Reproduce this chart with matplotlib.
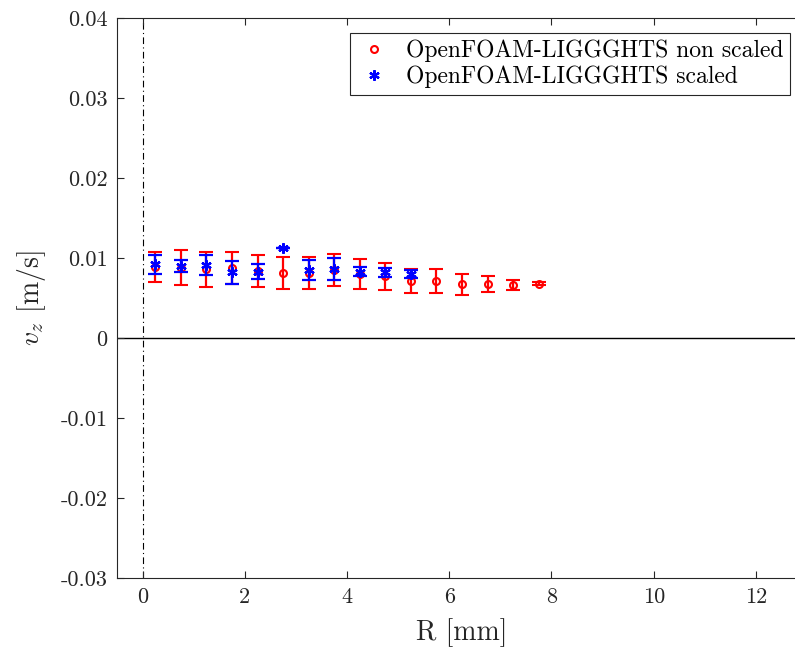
import matplotlib
matplotlib.use("Agg")
import matplotlib.pyplot as plt

# ---- data ----
r_red = [0.25, 0.75, 1.25, 1.75, 2.25, 2.75, 3.25, 3.75, 4.25, 4.75, 5.25, 5.75, 6.25, 6.75, 7.25, 7.75]
v_red = [0.0089, 0.0088, 0.0086, 0.0087, 0.0084, 0.0081, 0.0081, 0.0085, 0.0080, 0.0077, 0.0071, 0.0071, 0.0067, 0.0067, 0.0066, 0.0068]
e_red = [0.0019, 0.0022, 0.0022, 0.0020, 0.0020, 0.0020, 0.0020, 0.0020, 0.00185, 0.0017, 0.0015, 0.0015, 0.00135, 0.0010, 0.0006, 0.0002]

r_blue = [0.25, 0.75, 1.25, 1.75, 2.25, 2.75, 3.25, 3.75, 4.25, 4.75, 5.25]
v_blue = [0.0092, 0.0090, 0.0091, 0.0082, 0.0083, 0.0113, 0.0085, 0.0086, 0.0083, 0.0082, 0.0080]
e_blue = [0.0012, 0.0008, 0.00125, 0.0014, 0.0009, 0.0, 0.0012, 0.0014, 0.0006, 0.0006, 0.00045]

xticks = [0, 2, 4, 6, 8, 10, 12]
yticks = [-0.03, -0.02, -0.01, 0, 0.01, 0.02, 0.03, 0.04]
ytick_labels = ['-0.03', '-0.02', '-0.01', '0', '0.01', '0.02', '0.03', '0.04']
xtick_labels = ['0', '2', '4', '6', '8', '10', '12']
labels = ['OpenFOAM-LIGGGHTS non scaled', 'OpenFOAM-LIGGGHTS scaled']

plt.rcParams['font.family'] = ['cmr10', 'DejaVu Serif']
plt.rcParams['mathtext.fontset'] = 'cm'
plt.rcParams['axes.unicode_minus'] = False
plt.rcParams['axes.formatter.use_mathtext'] = True

W, H = 795, 651
fig = plt.figure(figsize=(W / 100, H / 100), dpi=100)
ax = fig.add_axes([117 / W, (H - 578) / H, 690 / W, 560 / H])

ax.axhline(0, color='black', lw=1.0, zorder=1)
ax.axvline(0, color='black', lw=0.8, ls=(0, (6, 3, 1, 3)), zorder=1)

c1 = ax.errorbar(r_red, v_red, yerr=e_red, linestyle='none', marker='o', color='red',
                 mfc='none', mec='red', ms=5, mew=1.5, ecolor='red', elinewidth=1.6,
                 capsize=4.7, capthick=1.6, zorder=3)
c2 = ax.errorbar(r_blue, v_blue, yerr=e_blue, linestyle='none', marker=(6, 2, 0), color='blue',
                 mfc='blue', mec='blue', ms=7.5, mew=1.6, ecolor='blue', elinewidth=1.6,
                 capsize=4.7, capthick=1.6, zorder=4)

ax.set_xlim(-0.5, 13)
ax.set_ylim(-0.03, 0.04)
ax.set_xticks(xticks)
ax.set_xticklabels(xtick_labels)
ax.set_yticks(yticks)
ax.set_yticklabels(ytick_labels)
ax.tick_params(direction='in', top=True, right=True, length=5, width=0.8, labelsize=16,
               colors='#262626', labelcolor='#262626', pad=7)
for s in ax.spines.values():
    s.set_color('#262626')
    s.set_linewidth(0.8)

ax.set_xlabel('R [mm]', fontsize=20, color='#262626', labelpad=8)
ax.set_ylabel(r'$v_z$ [m/s]', fontsize=20, color='#262626', labelpad=9)

leg = ax.legend([c1[0], c2[0]], labels, loc='upper right',
                bbox_to_anchor=(790 / W, 1 - 33 / H), bbox_transform=fig.transFigure,
                borderaxespad=0, fancybox=False, framealpha=1, edgecolor='#262626',
                fontsize=17, handlelength=1.5, handletextpad=0.6, borderpad=0.28,
                labelspacing=0.15)
leg.get_frame().set_linewidth(0.8)

fig.savefig('out.png', dpi=100)
